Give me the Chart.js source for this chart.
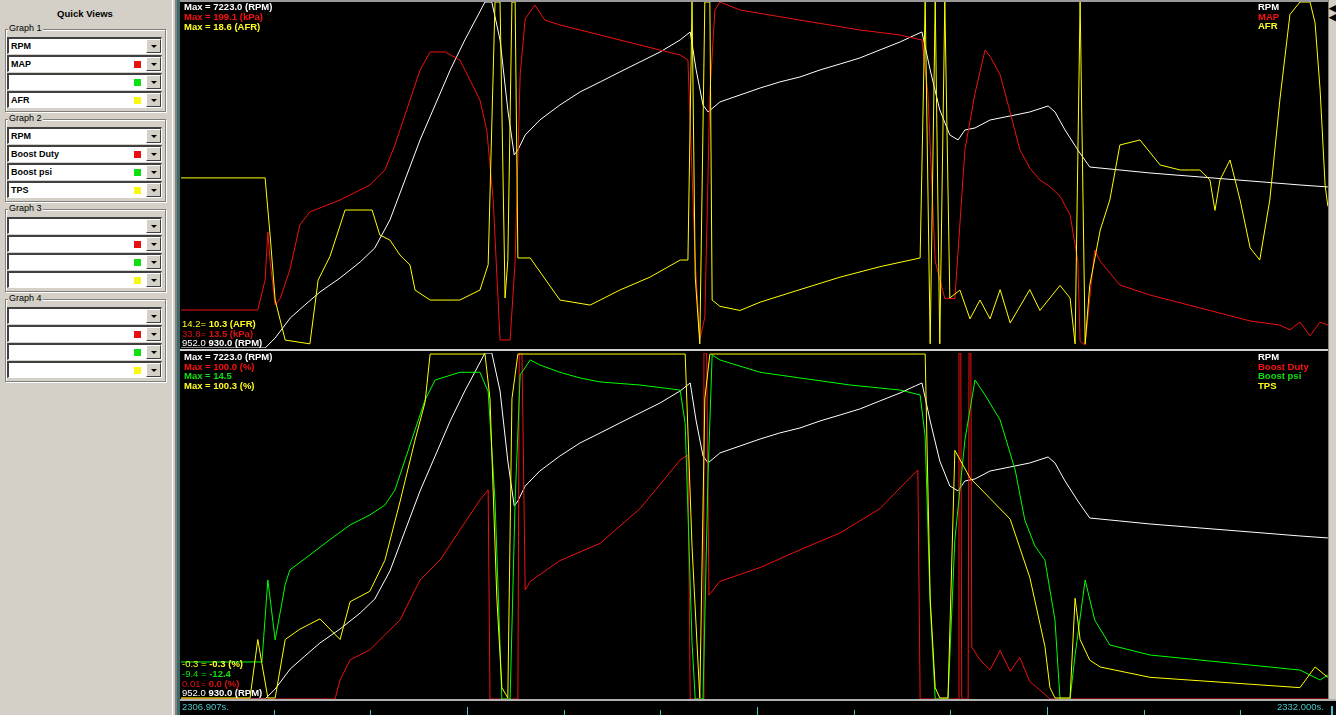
<!DOCTYPE html>
<html><head><meta charset="utf-8">
<script src="https://cdn.jsdelivr.net/npm/chart.js@4.4.1/dist/chart.umd.min.js"></script>
<style>
*{box-sizing:border-box}
html,body{margin:0;padding:0;width:1336px;height:715px;overflow:hidden;background:#000;}
#panel{position:absolute;left:0;top:0;width:177px;height:715px;background:#d4d0c8;font-family:"Liberation Sans",Arial,sans-serif;color:#000}
.edgeA{position:absolute;left:172px;top:0;width:1px;height:715px;background:#fff}
.edgeB{position:absolute;left:175px;top:0;width:2px;height:715px;background:#808080}
.title{position:absolute;left:0;width:170px;top:8px;text-align:center;font-weight:bold;font-size:9.5px;line-height:11px}
.grp{position:absolute;left:5px;width:161px;border:1px solid #808080;box-shadow:1px 1px 0 #fff, inset 1px 1px 0 #fff;}
.glab{position:absolute;left:8px;font-size:9px;background:#d4d0c8;padding:0 1px;line-height:11px}
.combo{position:absolute;left:7px;width:155px;height:17px;background:#fff;border-top:2px solid #404040;border-left:2px solid #404040;border-bottom:1px solid #fff;border-right:1px solid #fff}
.combo span{position:absolute;left:2px;top:1px;font-weight:bold;font-size:9px;line-height:12px}
.btn{position:absolute;right:0;top:0;width:15px;height:14px;background:#d4d0c8;border:1px solid;border-color:#fff #404040 #404040 #fff}
.btn:after{content:"";position:absolute;left:4px;top:5px;border-left:3px solid transparent;border-right:3px solid transparent;border-top:3px solid #000}
.sq{position:absolute;right:20px;top:4px;width:7px;height:7px}
.txt{position:absolute;font-family:"Liberation Sans",Arial,sans-serif;font-size:9.5px;font-weight:bold;line-height:10px;white-space:pre}
.n{font-weight:normal}
.line{position:absolute;background:#c0c0c0}
.ts{position:absolute;font-family:"Liberation Sans",Arial,sans-serif;font-size:9.5px;color:#4fc4c4;line-height:10px;white-space:pre}
canvas{position:absolute}
</style></head><body>
<div id="panel"><div class="edgeA"></div><div class="edgeB"></div><div class="title">Quick Views</div></div>
<div class="line" style="left:177px;top:0;width:1159px;height:2px;background:#9a9a9a"></div>
<div class="line" style="left:177px;top:349px;width:1151px;height:2px;background:#d0d0d0"></div>
<div class="line" style="left:177px;top:699px;width:1159px;height:2px;background:#b0b0b0"></div>
<div class="line" style="left:177px;top:0;width:3px;height:715px;background:#3a6a6a"></div>
<div class="line" style="left:1328px;top:0;width:8px;height:699px;background:#d4d0c8;border-left:1px solid #808080"></div>
<div class="line" style="left:1331px;top:706px;width:2px;height:9px;background:#3cc8d0"></div>
<div class="txt" style="left:1329px;top:3px;color:#000;font-size:9px">◀</div>
<div class="txt" style="left:1329px;top:12px;color:#000;font-size:9px">◀</div>
<canvas id="c1" width="1147" height="346" style="left:181px;top:2px"></canvas>
<canvas id="c2" width="1147" height="362" style="left:181px;top:353px"></canvas>

<div class="txt" style="left:184px;top:2px;color:#fff">Max = 7223.0 (RPM)</div>
<div class="txt" style="left:184px;top:12px;color:#ff1010">Max = 199.1 (kPa)</div>
<div class="txt" style="left:184px;top:22px;color:#ffff20">Max = 18.6 (AFR)</div>
<div class="txt" style="left:1258px;top:2px;color:#fff">RPM</div>
<div class="txt" style="left:1258px;top:12px;color:#ff1010">MAP</div>
<div class="txt" style="left:1258px;top:21px;color:#ffff20">AFR</div>
<div class="txt" style="left:182px;top:319px;color:#ffff20"><span class="n">14.2= </span>10.3 (AFR)</div>
<div class="txt" style="left:182px;top:329px;color:#e01010"><span class="n">33.8= </span>13.5 (kPa)</div>
<div class="txt" style="left:182px;top:338px;color:#fff"><span class="n">952.0 </span>930.0 (RPM)</div>

<div class="txt" style="left:184px;top:352px;color:#fff">Max = 7223.0 (RPM)</div>
<div class="txt" style="left:184px;top:362px;color:#ff1010">Max = 100.0 (%)</div>
<div class="txt" style="left:184px;top:371px;color:#10e010">Max = 14.5</div>
<div class="txt" style="left:184px;top:381px;color:#ffff20">Max = 100.3 (%)</div>
<div class="txt" style="left:1258px;top:352px;color:#fff">RPM</div>
<div class="txt" style="left:1258px;top:362px;color:#ff1010">Boost Duty</div>
<div class="txt" style="left:1258px;top:371px;color:#10e010">Boost psi</div>
<div class="txt" style="left:1258px;top:381px;color:#ffff20">TPS</div>
<div class="txt" style="left:182px;top:659px;color:#ffff20"><span class="n">-0.3 = </span>-0.3 (%)</div>
<div class="txt" style="left:182px;top:669px;color:#10e010"><span class="n">-9.4 = </span>-12.4</div>
<div class="txt" style="left:182px;top:679px;color:#e01010"><span class="n">0.01= </span>0.0 (%)</div>
<div class="txt" style="left:182px;top:688px;color:#fff"><span class="n">952.0 </span>930.0 (RPM)</div>
<div class="ts" style="left:182px;top:702px">2306.907s.</div>
<div class="ts" style="left:1277px;top:702px">2332.000s.</div>

<script>
// ---- time window (seconds after 2306.907 s) ----
const tStart = 0, tEnd = 25.093;
const tickTimes = [2.03, 4.14, 6.26, 8.37, 10.49, 12.60, 14.72, 16.83, 18.95, 21.06, 23.17];
const majorTicks = [6.26, 12.60, 18.95];

// ---- RPM (shared by both graphs) ----
const rpmT = [0,1.84,2.06,2.39,2.71,3.04,3.48,3.92,4.24,4.57,4.90,5.23,5.56,5.89,6.21,6.50,6.65,6.80,6.98,7.15,7.29,7.37,7.53,7.85,8.29,8.73,9.17,9.60,10.04,10.48,10.92,11.14,11.27,11.42,11.53,11.79,12.23,12.67,13.10,13.54,13.98,14.42,14.85,15.29,15.73,16.06,16.21,16.39,16.60,16.82,17.00,17.15,17.37,17.70,18.14,18.57,18.97,19.12,19.34,19.62,19.88,20.54,21.20,22.29,23.39,24.48,25.09];
const rpmV = [930,930,1112,1476,1712,1949,2203,2494,2749,3258,3986,4714,5350,5987,6533,6987,7223,7223,6533,5259,4441,4532,4804,5077,5350,5587,5769,5950,6132,6314,6533,6678,5987,5350,5223,5405,5532,5659,5769,5859,5987,6096,6205,6351,6496,6623,6678,5987,5259,4804,4714,4895,4932,5077,5150,5223,5332,5223,4895,4532,4222,4168,4113,4041,3968,3895,3859];

// ---- MAP kPa ----
const mapT = [0,1.68,1.84,1.90,1.95,2.06,2.17,2.38,2.60,2.82,3.48,4.13,4.46,4.68,5.01,5.23,5.45,5.78,6.10,6.32,6.54,6.69,6.83,6.98,7.20,7.31,7.42,7.53,7.74,7.96,8.29,9.17,10.04,10.92,11.09,11.25,11.35,11.46,11.57,11.68,11.79,12.23,13.54,14.85,15.73,16.21,16.34,16.50,16.71,16.93,17.15,17.37,17.59,17.70,17.92,18.14,18.35,18.57,18.79,19.01,19.23,19.45,19.62,19.67,19.78,19.88,19.99,20.11,20.54,21.20,22.29,23.39,24.04,24.26,24.48,24.70,24.92,25.09];
const mapV = [33.9,33.9,50,75.7,60,36.6,40,55.3,79.5,86.5,92.9,100.9,109,122.4,146.5,162.6,172.3,172.3,168,157.3,146.5,130.4,92.9,17.8,17.8,60,160,190,197.5,189.4,186.8,181.4,176,170.7,168,60,17.8,30,150,194.8,199.1,194.8,189.4,184.1,181.4,178.7,150,60,40,40,120,150,173.3,170,160,140,120,110,103.6,100,95,85,60,17,15.1,40,66.1,60,47.3,41.9,35,28,25.8,23.2,27.4,20,27.4,25.8];

// ---- AFR ----
const afrT = [0,1.84,1.95,2.06,2.28,2.82,3.00,3.26,3.59,4.18,4.35,4.57,4.79,5.01,5.12,5.45,6.10,6.54,6.72,6.87,6.98,7.09,7.15,7.24,7.31,7.37,7.64,8.29,8.95,9.17,9.60,10.26,10.92,11.09,11.18,11.25,11.35,11.46,11.57,11.62,11.79,12.23,12.67,13.54,14.42,15.29,16.17,16.28,16.39,16.50,16.60,16.71,16.82,17.04,17.26,17.48,17.70,17.92,18.14,18.57,18.79,19.01,19.23,19.45,19.56,19.67,19.78,19.88,20.11,20.32,20.54,20.98,21.42,21.86,22.29,22.51,22.62,22.73,22.95,23.17,23.39,23.60,23.82,24.04,24.26,24.48,24.70,24.81,24.92,25.03,25.09];
const afrV = [14.38,14.38,13,11.45,10.49,10.4,11.93,12.5,13.61,13.61,13.01,12.89,12.53,12.29,11.69,11.45,11.45,11.69,12.3,18.6,18.6,11.5,12.4,18.6,18.6,12.46,12.46,11.45,11.33,11.45,11.69,12.0,12.41,12.41,18.6,12,10.4,18.6,18.6,11.45,11.3,11.2,11.4,11.7,12.0,12.25,12.46,18.6,10.4,18.6,10.4,18.6,11.5,11.69,11.0,11.45,11.0,11.7,10.9,11.7,11.2,11.5,11.8,11.5,10.4,18.6,10.4,11.8,13.13,13.85,15.17,15.29,14.69,14.57,14.57,14.33,13.6,14.33,14.81,13.85,12.7,12.41,13.85,16.25,18.3,18.6,18.6,18.1,16.5,14.2,13.7];

// ---- Boost Duty % ----
const dutyT = [0,3.37,3.48,3.70,4.13,4.35,4.79,5.23,5.67,6.10,6.54,6.72,6.76,7.37,7.40,7.46,7.53,7.64,8.29,9.17,10.04,10.48,10.92,11.09,11.14,11.42,11.44,11.50,11.55,11.79,12.67,13.54,14.42,15.29,15.73,16.12,16.17,17.00,17.02,17.06,17.08,17.22,17.24,17.28,17.30,17.48,17.70,17.92,18.14,18.35,18.57,18.79,19.01,25.09];
const dutyV = [0,0,5.5,11.3,14.2,17.1,22.8,34.4,40.2,48.8,57.5,60.4,0,0,100,100,31.5,34,40,45,55,62,69.1,70.5,0,0,100,100,30,34,38,43.1,48,55,61,66.2,0,0,100,100,0,0,100,100,15,11.3,8.4,14,8,12,5,2.6,0,0];

// ---- Boost psi ----
const psiT = [0,1.77,1.90,2.06,2.28,2.38,2.82,3.26,3.70,4.13,4.46,4.68,4.90,5.12,5.34,5.56,6.10,6.54,6.72,6.87,7.02,7.20,7.31,7.42,7.64,7.85,8.29,8.73,9.17,10.04,10.92,11.03,11.18,11.25,11.42,11.53,11.62,11.79,12.67,13.54,14.64,15.73,16.17,16.28,16.39,16.50,16.78,16.93,17.15,17.37,17.59,17.92,18.25,18.46,18.68,18.90,19.12,19.23,19.45,19.56,19.78,19.99,20.32,21.20,22.29,23.39,24.48,24.92,25.09];
const psiV = [-9.52,-9.52,-3.15,-7.81,-3.5,-2.37,-1.2,0,1.13,1.91,2.68,3.85,6.18,8.52,10.85,12.4,13.0,13.0,11.5,3,-12.4,-12.4,3,12.8,13.96,13.57,13.0,12.56,12.25,12.01,11.62,9,-8,-12.4,-12.4,5,14.35,13.96,13.0,12.56,12.01,11.62,11.24,8,-5,-12.4,-12.4,0,7.74,12.4,11.24,9.29,5.4,1.52,-0.5,-1.59,-6.26,-12.4,-12.4,-9,-3.15,-6.26,-8.2,-8.98,-9.37,-9.76,-10.15,-10.92,-10.53];

// ---- TPS % ----
const tpsT = [0,1.51,1.68,1.77,1.90,2.06,2.28,2.60,3.04,3.48,3.70,4.13,4.46,4.79,5.12,5.34,5.45,6.65,6.76,6.91,7.02,7.15,7.24,7.37,11.03,11.18,11.35,11.46,11.57,16.28,16.39,16.50,16.60,16.78,16.93,17.26,17.70,18.14,18.57,18.90,19.01,19.12,19.45,19.56,19.67,19.88,20.11,21.20,22.29,23.39,24.48,24.81,25.09];
const tpsV = [0,0,17,10,0,0,17,20,23,17,28,31,40,57,75,86,100,100,87,29,3,0,87,100,100,44,0,87,100,100,29,3,0,0,72,64,58,52,35,15,3,0,0,29,17,11,9,6,5,4,3,9,6];

const pts = (T, V) => T.map((t, i) => ({x: t, y: V[i]}));
const ds = (T, V, color, axis) => ({data: pts(T, V), showLine: true, pointRadius: 0, borderWidth: 1, borderColor: color, yAxisID: axis, tension: 0});
const baseOpts = (yScales, padBottom) => ({
  responsive: false, animation: false, events: [],
  layout: {padding: {left: 0, right: 0, top: 0, bottom: padBottom}},
  plugins: {legend: {display: false}, tooltip: {enabled: false}},
  scales: Object.assign({x: {type: 'linear', min: tStart, max: tEnd, display: false}}, yScales)
});

new Chart(document.getElementById('c1'), {
  type: 'scatter',
  data: {datasets: [
    ds(afrT, afrV, '#ffff00', 'yA'),
    ds(mapT, mapV, '#f01010', 'yM'),
    ds(rpmT, rpmV, '#ffffff', 'yR')
  ]},
  options: baseOpts({
    yR: {min: 930, max: 7223, display: false},
    yM: {min: 13.5, max: 199.1, display: false},
    yA: {min: 10.3, max: 18.6, display: false}
  }, 0)
});

const stripPlugin = {
  id: 'strip',
  afterDraw(chart) {
    const c = chart.ctx, xs = chart.scales.x, b = chart.chartArea.bottom;
    c.save();
    c.fillStyle = '#000';
    c.fillRect(0, b + 3, chart.width, chart.height - b - 3);
    c.strokeStyle = '#3cc8d0';
    c.lineWidth = 1;
    tickTimes.forEach(t => {
      const x = Math.round(xs.getPixelForValue(t)) + 0.5;
      const major = majorTicks.includes(t);
      c.beginPath();
      c.moveTo(x, major ? b + 8 : b + 11);
      c.lineTo(x, chart.height);
      c.stroke();
    });
    c.restore();
  }
};

new Chart(document.getElementById('c2'), {
  type: 'scatter',
  data: {datasets: [
    ds(tpsT, tpsV, '#ffff00', 'yT'),
    ds(psiT, psiV, '#00ff00', 'yP'),
    ds(dutyT, dutyV, '#f01010', 'yD'),
    ds(rpmT, rpmV, '#ffffff', 'yR')
  ]},
  options: baseOpts({
    yR: {min: 930, max: 7223, display: false},
    yD: {min: 0, max: 100, display: false},
    yP: {min: -12.4, max: 14.5, display: false},
    yT: {min: -0.3, max: 100.3, display: false}
  }, 16),
  plugins: [stripPlugin]
});

// ---- Quick Views panel ----
const groupNames = ['Graph 1', 'Graph 2', 'Graph 3', 'Graph 4'];
const groupItems = [['RPM', 'MAP', '', 'AFR'], ['RPM', 'Boost Duty', 'Boost psi', 'TPS'], ['', '', '', ''], ['', '', '', '']];
const slotColors = [null, '#e81010', '#10e010', '#f8f810'];
const panel = document.getElementById('panel');
groupNames.forEach((g, gi) => {
  const top = 29 + 90 * gi;
  const box = document.createElement('div');
  box.className = 'grp'; box.style.top = top + 'px'; box.style.height = '83px';
  panel.appendChild(box);
  const lab = document.createElement('div');
  lab.className = 'glab'; lab.style.top = (top - 6) + 'px'; lab.textContent = g;
  panel.appendChild(lab);
  groupItems[gi].forEach((it, i) => {
    const cb = document.createElement('div');
    cb.className = 'combo'; cb.style.top = Math.round(top + 7.5 + 18.3 * i) + 'px';
    const sp = document.createElement('span'); sp.textContent = it; cb.appendChild(sp);
    if (slotColors[i]) { const s = document.createElement('div'); s.className = 'sq'; s.style.background = slotColors[i]; cb.appendChild(s); }
    const b = document.createElement('div'); b.className = 'btn'; cb.appendChild(b);
    panel.appendChild(cb);
  });
});
</script>
</body></html>
